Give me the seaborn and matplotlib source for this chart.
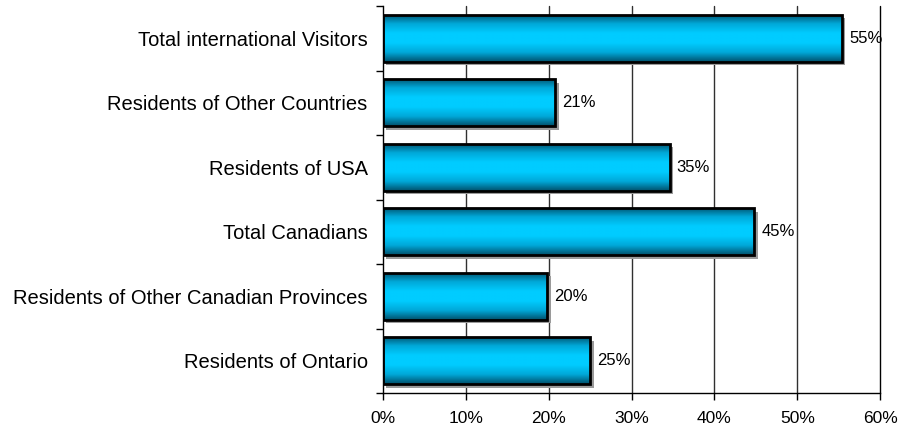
import numpy as np
import matplotlib
matplotlib.use("Agg")
import matplotlib.pyplot as plt
import matplotlib.transforms as mtransforms
from matplotlib.patches import Rectangle
from matplotlib.colors import LinearSegmentedColormap
from matplotlib.ticker import FixedLocator
import pandas as pd
import seaborn as sns

# Share of visitors by origin (percent)
categories = [
    "Total international Visitors",
    "Residents of Other Countries",
    "Residents of USA",
    "Total Canadians",
    "Residents of Other Canadian Provinces",
    "Residents of Ontario",
]
shares = [55.4, 20.8, 34.6, 44.8, 19.8, 25.0]
x_ticks = [0, 10, 20, 30, 40, 50, 60]
x_tick_labels = ["0%", "10%", "20%", "30%", "40%", "50%", "60%"]

sns.set_theme(style="white")
plt.rcParams["font.family"] = ["Liberation Sans", "DejaVu Sans"]

df = pd.DataFrame({"category": categories, "share": shares})

fig = plt.figure(figsize=(8.99, 4.30), dpi=100)
ax = fig.add_axes([0.426, 0.086, 0.553, 0.9])

sns.barplot(data=df, x="share", y="category", orient="h", order=categories,
            width=0.73, color="#00ccff", edgecolor="black", linewidth=2,
            saturation=1, ax=ax, zorder=4)

ax.set_xlim(0, 60)
ax.set_ylim(len(categories) - 0.5, -0.5)

# vertical gridlines behind the bars
for t in x_ticks[1:]:
    ax.axvline(t, color="#303030" if t < 60 else "black", lw=1, zorder=1,
               clip_on=False)

# cylinder-like gradient: dark teal edges, bright cyan middle
cmap = LinearSegmentedColormap.from_list(
    "tube", ["#004f6a", "#00a8d8", "#00ccff", "#00ccff", "#00a8d8", "#004f6a"])
grad = np.linspace(0, 1, 256).reshape(-1, 1)
shadow_offset = mtransforms.ScaledTranslation(2.5 / 72, -2.5 / 72, fig.dpi_scale_trans)
for patch, v in zip(ax.patches, shares):
    x0, y0 = patch.get_x(), patch.get_y()
    w, h = patch.get_width(), patch.get_height()
    shadow = Rectangle((x0, y0), w, h, facecolor="#9a9a9a", edgecolor="none",
                       transform=ax.transData + shadow_offset, zorder=2, clip_on=False)
    ax.add_patch(shadow)
    img = ax.imshow(grad, extent=[x0, x0 + w, y0 + h, y0], cmap=cmap,
                    aspect="auto", zorder=3, interpolation="bilinear")
    img.set_clip_path(patch)
    patch.set_facecolor("none")
    ax.text(x0 + w + 0.85, y0 + h / 2, f"{v:.0f}%", va="center", ha="left",
            fontsize=12, color="black", zorder=5)

ax.set_xlim(0, 60)
ax.set_ylim(len(categories) - 0.5, -0.5)

ax.set_xticks(x_ticks)
ax.set_xticklabels(x_tick_labels, fontsize=12.5, color="black")
ax.yaxis.set_minor_locator(FixedLocator(np.arange(-0.5, len(categories), 1.0)))
ax.tick_params(axis="y", which="major", length=0, labelsize=14.5, labelcolor="black", pad=11)
ax.tick_params(axis="y", which="minor", left=True, length=5, width=1, color="black", direction="out")
ax.tick_params(axis="x", bottom=True, length=5, width=1, color="black", direction="out",
               pad=8)
ax.set_xlabel("")
ax.set_ylabel("")

for side in ("top", "right"):
    ax.spines[side].set_visible(False)
for side in ("left", "bottom"):
    ax.spines[side].set_color("black")
    ax.spines[side].set_linewidth(1)
    ax.spines[side].set_zorder(6)

fig.savefig("out.png", dpi=100)
